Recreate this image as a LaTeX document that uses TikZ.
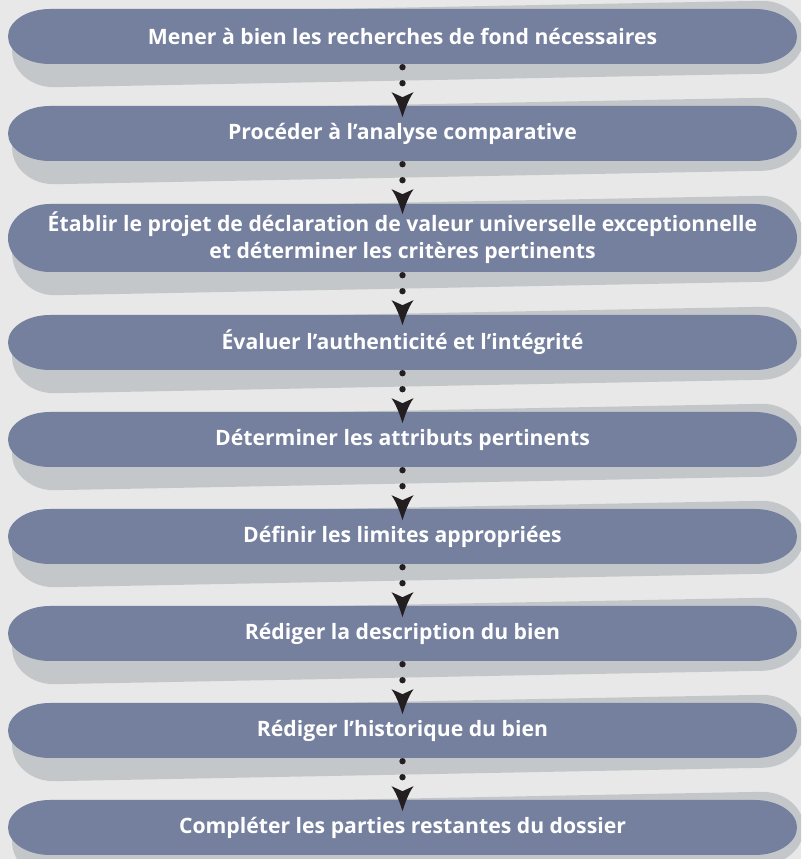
\documentclass[tikz,border=0pt]{standalone}
\usepackage{fontspec}
\setmainfont{Open Sans}
\usetikzlibrary{decorations.markings}
\definecolor{bgc}{HTML}{E7E8E7}
\definecolor{boxc}{HTML}{75809F}
\definecolor{shadc}{HTML}{C4C7CA}
\definecolor{inkc}{HTML}{231F20}
\newcommand\pillpath[4]{(#1+42,#3+#4) -- (#2-42,#3+#4) arc[start angle=90,end angle=-90,x radius=42,y radius=#4] -- (#1+42,#3-#4) arc[start angle=270,end angle=90,x radius=42,y radius=#4] -- cycle}
\newcommand\stepbox[4]{%
  \pgfmathsetmacro\myyc{859-(#2+#3)/2}%
  \pgfmathsetmacro\myhh{(#3-#2)/2}%
  \pgfmathsetmacro\mysh{\myhh+9}%
  \pgfmathsetmacro\mysy{\myyc-7.5}%
  \begin{scope}[shift={(408,\mysy)},rotate=1.085]
    \fill[shadc] \pillpath{-396}{396}{0}{\mysh};
  \end{scope}
  \fill[boxc] \pillpath{8}{797}{\myyc}{\myhh};
  \node[boxtext,minimum height=2*\myhh] (#1) at (402.5,\myyc) {#4};
}
\tikzset{
  boxtext/.style={inner sep=0pt,minimum width=789pt,align=center,text=white,
    font=\fontsize{21.2}{27}\selectfont\bfseries},
  conn/.style={postaction={decorate},decoration={markings,
    mark=at position 3pt with {\fill[inkc] (0,0) circle (3.2);},
    mark=at position 19pt with {\fill[inkc] (0,0) circle (3.2);},
    mark=at position 28pt with {\fill[inkc] (25,0) .. controls (12,4) and (4,8) .. (0,11) -- (5,0) -- (0,-11) .. controls (4,-8) and (12,-4) .. (25,0) -- cycle;}}}
}
\begin{document}
\begin{tikzpicture}[x=1pt,y=1pt]
\useasboundingbox (0,0) rectangle (801,859);
\fill[bgc] (0,0) rectangle (801,859);
\clip (0,0) rectangle (801,859);
\stepbox{b1}{9}{64}{Mener à bien les recherches de fond nécessaires}
\stepbox{b2}{106}{161}{Procéder à l’analyse comparative}
\stepbox{b3}{204}{272}{Établir le projet de déclaration de valeur universelle exceptionnelle\\et déterminer les critères pertinents}
\stepbox{b4}{315}{370}{Évaluer l’authenticité et l’intégrité}
\stepbox{b5}{412}{467}{Déterminer les attributs pertinents}
\stepbox{b6}{509}{564}{Définir les limites appropriées}
\stepbox{b7}{606}{661}{Rédiger la description du bien}
\stepbox{b8}{703}{758}{Rédiger l’historique du bien}
\stepbox{b9}{800}{855}{Compléter les parties restantes du dossier}
\path[conn] (b1.south) -- (b2.north);
\path[conn] (b2.south) -- (b3.north);
\path[conn] (b3.south) -- (b4.north);
\path[conn] (b4.south) -- (b5.north);
\path[conn] (b5.south) -- (b6.north);
\path[conn] (b6.south) -- (b7.north);
\path[conn] (b7.south) -- (b8.north);
\path[conn] (b8.south) -- (b9.north);
\end{tikzpicture}
\end{document}
